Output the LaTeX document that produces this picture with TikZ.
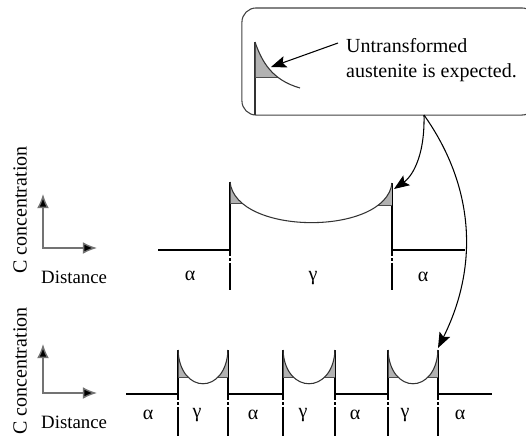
\documentclass[tikz,border=0pt]{standalone}
\usepackage{fontspec}
\setmainfont{Liberation Serif}
\usetikzlibrary{arrows.meta, calc}

\begin{document}
\begin{tikzpicture}[
    x=0.85pt, y=-0.85pt,
    txt/.style={font=\fontsize{17}{21}\selectfont, inner sep=0pt},
    prof/.style={line width=1.2pt, draw=black},
    curv/.style={line width=0.9pt, draw=black!80},
    wedge/.style={fill=black!30, draw=black!70, line width=0.7pt},
    divider/.style={line width=1.2pt, dash pattern=on 5pt off 2pt on 2pt off 2pt on 40pt},
    axis/.style={line width=1.2pt, draw=black!55, {Latex[length=12pt, width=10pt, fill=black]}-{Latex[length=12pt, width=10pt, fill=black]}},
    callarr/.style={line width=0.9pt, -{Stealth[length=13pt, width=10pt, inset=2.5pt]}}
]
\useasboundingbox (0,0) rectangle (526,436);

% callout
\node[draw=black!75, line width=0.9pt, rounded corners=12pt, minimum width=250pt, minimum height=91pt] (callout) at (389,61.5) {};
\node[txt, anchor=north west, align=left] (note) at (346,38) {Untransformed\\austenite is expected.};
\coordinate (wtip) at (271,67);
\coordinate (cstart) at (424,115);

\draw[curv] (255,115) -- (255,42);
\begin{scope}
    \clip (255,42) .. controls (262,62) and (272,80) .. (300,88) -- (300,115) -- (255,115) -- cycle;
    \draw[wedge] (255,42) rectangle (290,77);
\end{scope}
\draw[curv] (255,42) .. controls (262,62) and (272,80) .. (300,88);
\draw[callarr] ($(note.north west)+(-8,5)$) -- (wtip);

% upper profile
\draw[prof] (158,250) -- (230,250) -- (230,182);
\draw[prof] (392,183) -- (392,250) -- (465,250);
\begin{scope}
    \clip (230,182) .. controls (236,236) and (386,236) .. (392,183) -- (392,250) -- (230,250) -- cycle;
    \draw[wedge] (230,182) rectangle (260,203);
    \draw[wedge] (362,183) rectangle (392,205);
\end{scope}
\draw[curv] (230,182) .. controls (236,236) and (386,236) .. (392,183);
\draw[divider] (230,250) -- (230,290);
\draw[divider] (392,250) -- (392,290);
\coordinate (utip) at (394,189);

\node[txt] (ua1) at (190,276) {α};
\node[txt] (ug) at (313,278) {γ};
\node[txt] (ua2) at (423,277) {α};

% lower profile
\draw[prof] (126,394) -- (178,394) -- (178,350);
\draw[prof] (228,350) -- (228,394) -- (283,394) -- (283,350);
\draw[prof] (335,350) -- (335,394) -- (388,394) -- (388,350);
\draw[prof] (438,350) -- (438,394) -- (492,394);
\foreach \xa/\xb in {178/228, 283/335, 388/438} {
    \begin{scope}
        \clip (\xa,350) .. controls (\xa+2,395) and (\xb-2,395) .. (\xb,350) -- (\xb,394) -- (\xa,394) -- cycle;
        \draw[wedge] (\xa,350) rectangle (\xa+20,377);
        \draw[wedge] (\xb-20,350) rectangle (\xb,377);
    \end{scope}
    \draw[curv] (\xa,350) .. controls (\xa+2,395) and (\xb-2,395) .. (\xb,350);
}
\foreach \xd in {178, 228, 283, 335, 388, 438}
    \draw[divider] (\xd,394) -- (\xd,436);
\coordinate (ltip) at (438,348);

\node[txt] (la1) at (148,415) {α};
\node[txt] (lg1) at (197,415) {γ};
\node[txt] (la2) at (253,415) {α};
\node[txt] (lg2) at (303,415) {γ};
\node[txt] (la3) at (355,415) {α};
\node[txt] (lg3) at (405,415) {γ};
\node[txt] (la4) at (460,415) {α};

% axes
\coordinate (o1) at (43,248);
\coordinate (o2) at (43,393);
\draw[axis] ($(o1)+(0,-54)$) -- (o1) -- ($(o1)+(54,0)$);
\draw[axis] ($(o2)+(0,-49)$) -- (o2) -- ($(o2)+(54,0)$);
\node[txt, anchor=west, font=\fontsize{16}{19}\selectfont] (dist1) at (41,277) {Distance};
\node[txt, anchor=west, font=\fontsize{16}{19}\selectfont] (dist2) at (41,422) {Distance};
\node[txt, rotate=90] (conc1) at (20,210) {C concentration};
\node[txt, rotate=90] (conc2) at (20,371) {C concentration};

% pointers
\draw[callarr] (cstart) .. controls (425,160) and (410,178) .. (utip);
\draw[callarr] (cstart) .. controls (477,190) and (477,270) .. (ltip);

\end{tikzpicture}
\end{document}
